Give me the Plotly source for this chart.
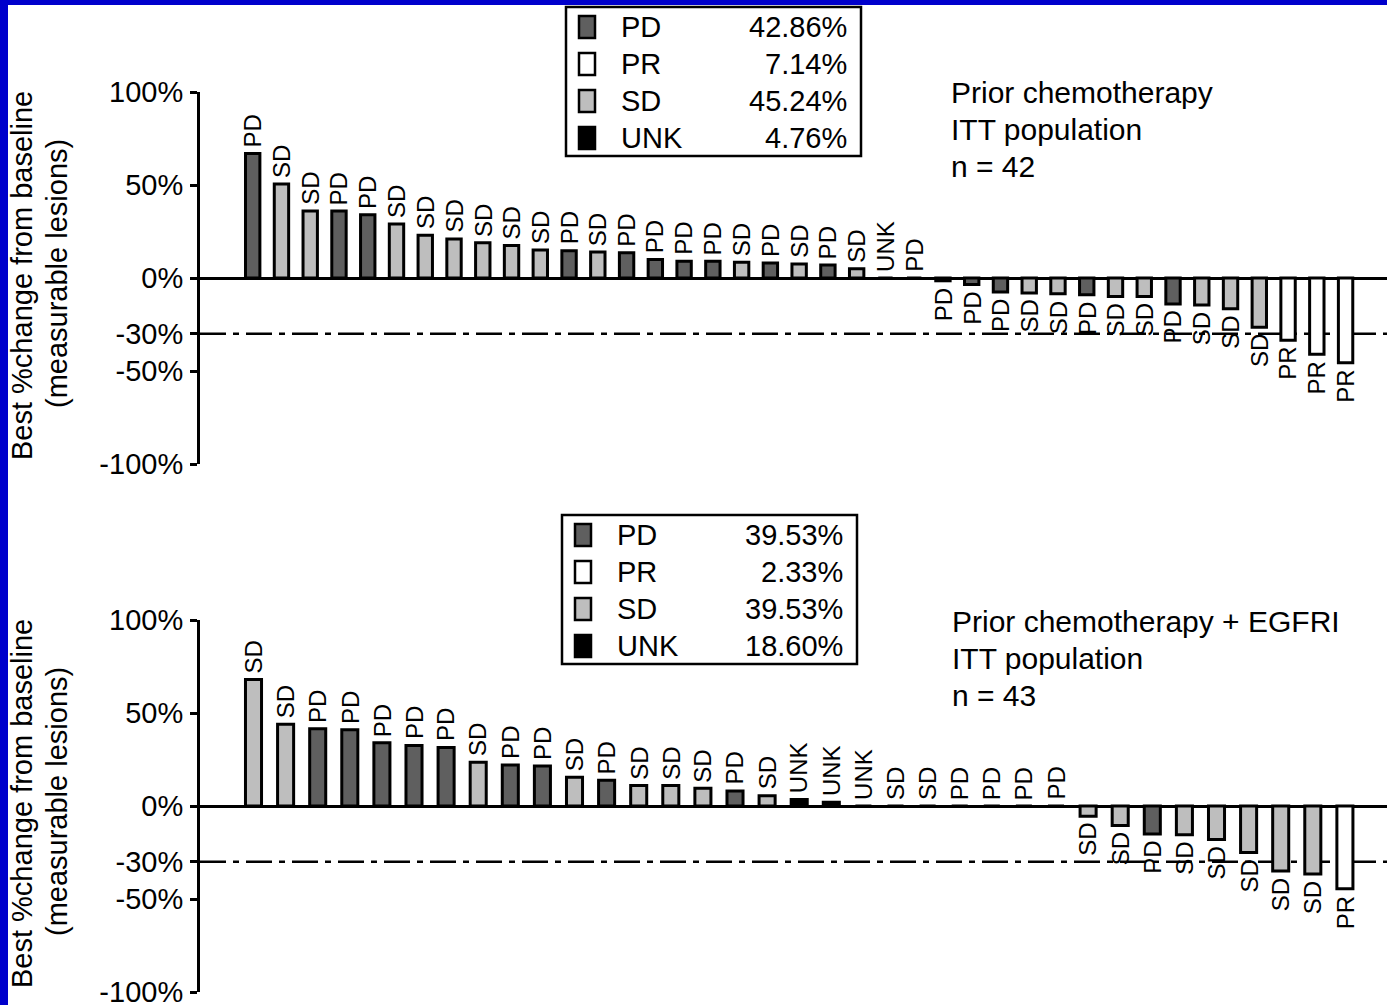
import plotly.graph_objects as go

W, H = 1387, 1005

# ---------------- data ----------------
top_status = ["PD", "SD", "SD", "PD", "PD", "SD", "SD", "SD", "SD", "SD", "SD", "PD", "SD",
              "PD", "PD", "PD", "PD", "SD", "PD", "SD", "PD", "SD", "UNK", "PD", "PD", "PD",
              "PD", "SD", "SD", "PD", "SD", "SD", "PD", "SD", "SD", "SD", "PR", "PR", "PR"]
top_change = [67, 50.5, 36, 36, 34, 29, 23, 21, 19, 17.5, 15, 14.7, 14,
              13.6, 10, 9, 9, 8.5, 8, 7.5, 7, 5, 0, 0, -1.5, -3.5,
              -7.5, -8, -8.5, -9, -10, -10, -14, -14.5, -16.5, -26.5, -33.5, -41, -45.5]

bot_status = ["SD", "SD", "PD", "PD", "PD", "PD", "PD", "SD", "PD", "PD", "SD", "PD", "SD",
              "SD", "SD", "PD", "SD", "UNK", "UNK", "UNK", "SD", "SD", "PD", "PD", "PD", "PD",
              "SD", "SD", "PD", "SD", "SD", "SD", "SD", "SD", "PR"]
bot_change = [68, 44, 41.5, 41, 34, 32.5, 31.5, 23.5, 22, 21.5, 15.5, 13.8, 11,
              11, 9.5, 8, 5.5, 3.5, 2, 0, 0, 0, 0, 0, 0, 0,
              -5.5, -10.5, -15, -15.5, -18, -25, -35, -36.5, -44.5]

legend_cats = ["PD", "PR", "SD", "UNK"]
top_pct = ["42.86%", "7.14%", "45.24%", "4.76%"]
bot_pct = ["39.53%", "2.33%", "39.53%", "18.60%"]

top_info = ["Prior chemotherapy", "ITT population", "n = 42"]
bot_info = ["Prior chemotherapy + EGFRI", "ITT population", "n = 43"]

ytick_vals = [100, 50, 0, -30, -50, -100]
ytick_text = ["100%", "50%", "0%", "-30%", "-50%", "-100%"]
threshold = -30
ytitle1 = "Best %change from baseline"
ytitle2 = "(measurable lesions)"

colors = {"PD": "#5f5f5f", "PR": "#ffffff", "SD": "#bebebe", "UNK": "#000000"}

FONT = "Liberation Sans, Arial, Helvetica, sans-serif"


def fx(px):
    return px / W


def fy(py):
    return 1 - py / H


panels = [
    dict(status=top_status, change=top_change, pct=top_pct, info=top_info,
         ax="x", ay="y", xname="xaxis", yname="yaxis",
         y100=92, y0=278, ym100=464, first=252.7, step=28.76,
         leg_x0=566, leg_y0=7, info_x=951, info_y=93),
    dict(status=bot_status, change=bot_change, pct=bot_pct, info=bot_info,
         ax="x2", ay="y2", xname="xaxis2", yname="yaxis2",
         y100=620, y0=806, ym100=992, first=253.5, step=32.1,
         leg_x0=562, leg_y0=515, info_x=952, info_y=621),
]

fig = go.Figure()
annotations = []
shapes = []
AX_LEFT = 200

for p in panels:
    n = len(p["status"])
    xr = [(AX_LEFT - p["first"]) / p["step"], (W - p["first"]) / p["step"]]
    fig.add_trace(go.Bar(
        x=list(range(n)), y=p["change"],
        marker=dict(color=[colors[s] for s in p["status"]],
                    line=dict(color="black", width=3)),
        width=0.5, xaxis=p["ax"], yaxis=p["ay"],
        showlegend=False, hoverinfo="skip",
    ))
    # bar labels
    for i, (s, v) in enumerate(zip(p["status"], p["change"])):
        annotations.append(dict(
            x=i, y=v, xref=p["ax"], yref=p["ay"], text=s, textangle=-90,
            showarrow=False, xanchor="center",
            yanchor="bottom" if v >= 0 else "top",
            yshift=4 if v >= 0 else -5,
            font=dict(size=24, family=FONT, color="black"),
        ))
    # threshold line
    shapes.append(dict(
        type="line", xref=p["ax"], yref=p["ay"], x0=xr[0], x1=xr[1],
        y0=threshold, y1=threshold, layer="below",
        line=dict(color="black", width=2.5, dash="26px,7px,6px,7px"),
    ))
    fig.update_layout(**{
        p["xname"]: dict(domain=[fx(AX_LEFT), 1], range=xr, visible=False,
                         anchor=p["ay"], fixedrange=True, automargin=False),
        p["yname"]: dict(domain=[fy(p["ym100"]), fy(p["y100"])], range=[-100, 100],
                         anchor=p["ax"], tickvals=ytick_vals, ticktext=ytick_text,
                         ticks="outside", ticklen=7, tickwidth=2.5, tickcolor="black",
                         showline=True, linewidth=3, linecolor="black",
                         zeroline=True, zerolinewidth=3, zerolinecolor="black",
                         showgrid=False, ticklabelstandoff=1, automargin=False,
                         ticklabeloverflow="allow",
                         tickfont=dict(size=29, family=FONT, color="black"),
                         fixedrange=True),
    })
    # legend box
    lx0, ly0 = p["leg_x0"], p["leg_y0"]
    shapes.append(dict(type="rect", xref="paper", yref="paper",
                       x0=fx(lx0), x1=fx(lx0 + 295), y0=fy(ly0 + 149), y1=fy(ly0),
                       line=dict(color="black", width=2.5), fillcolor="white",
                       layer="above"))
    for k, (cat, pc) in enumerate(zip(legend_cats, p["pct"])):
        cy = ly0 + 20 + 37 * k
        shapes.append(dict(type="rect", xref="paper", yref="paper",
                           x0=fx(lx0 + 13), x1=fx(lx0 + 29),
                           y0=fy(cy + 11), y1=fy(cy - 11),
                           line=dict(color="black", width=2.5),
                           fillcolor=colors[cat], layer="above"))
        annotations.append(dict(x=fx(lx0 + 53), y=fy(cy), xref="paper", yref="paper",
                                text=cat, showarrow=False, xanchor="left",
                                yanchor="middle",
                                font=dict(size=29, family=FONT, color="black")))
        annotations.append(dict(x=fx(lx0 + 283), y=fy(cy), xref="paper", yref="paper",
                                text=pc, showarrow=False, xanchor="right",
                                yanchor="middle",
                                font=dict(size=29, family=FONT, color="black")))
    # info text
    for k, t in enumerate(p["info"]):
        annotations.append(dict(x=fx(p["info_x"] - 2), y=fy(p["info_y"] + 37 * k),
                                xref="paper", yref="paper", text=t, showarrow=False,
                                xanchor="left", yanchor="middle",
                                font=dict(size=30, family=FONT, color="black")))
    # y-axis title
    annotations.append(dict(x=fx(22), y=fy(p["y0"] - 2), xref="paper", yref="paper",
                            text=ytitle1, textangle=-90, showarrow=False,
                            xanchor="center", yanchor="middle",
                            font=dict(size=29, family=FONT, color="black")))
    annotations.append(dict(x=fx(57), y=fy(p["y0"] - 4), xref="paper", yref="paper",
                            text=ytitle2, textangle=-90, showarrow=False,
                            xanchor="center", yanchor="middle",
                            font=dict(size=29, family=FONT, color="black")))

# blue frame (left and top)
shapes.append(dict(type="rect", xref="paper", yref="paper", x0=0, x1=fx(8), y0=0, y1=1,
                   line=dict(width=0), fillcolor="#0000cc", layer="above"))
shapes.append(dict(type="rect", xref="paper", yref="paper", x0=0, x1=1, y0=fy(5), y1=1,
                   line=dict(width=0), fillcolor="#0000cc", layer="above"))

fig.update_layout(
    template="none",
    width=W, height=H, autosize=False,
    margin=dict(l=0, r=0, t=0, b=0, pad=0, autoexpand=False),
    paper_bgcolor="white", plot_bgcolor="white",
    font=dict(family=FONT, color="black"),
    annotations=annotations, shapes=shapes,
    bargap=0.5, showlegend=False,
)

fig.write_html("out.html", config={"displayModeBar": False},
               post_script="document.body.style.margin='0px';")
